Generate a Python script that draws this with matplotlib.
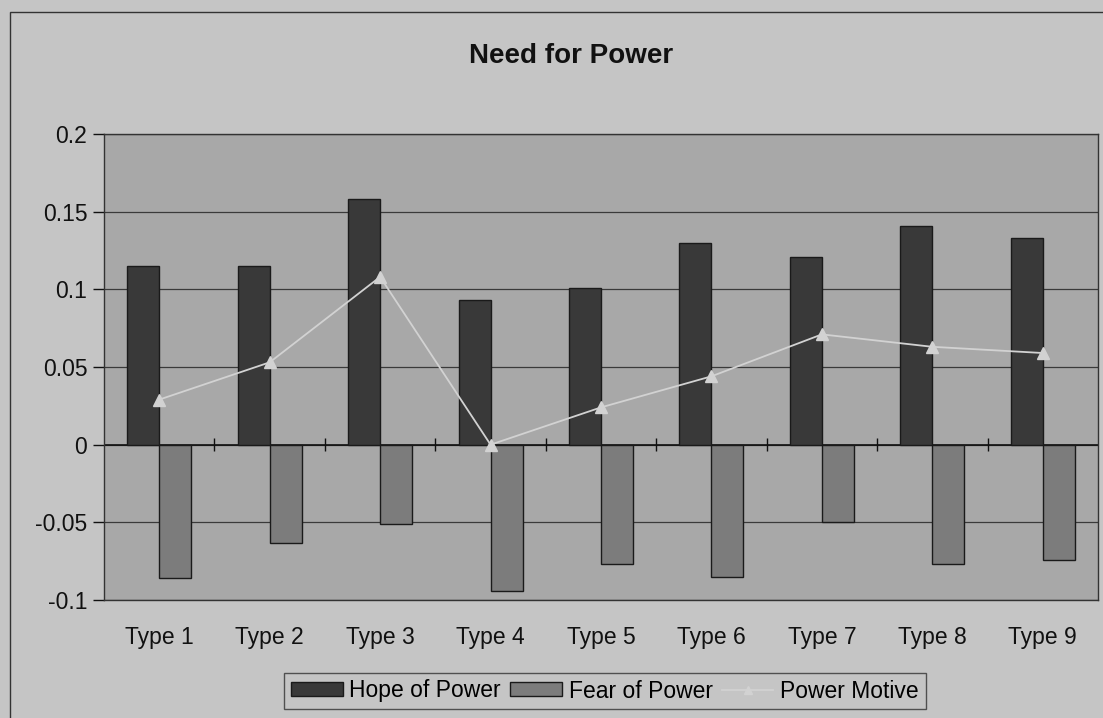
import matplotlib
matplotlib.use("Agg")
import matplotlib.pyplot as plt
import numpy as np
from matplotlib.patches import Rectangle
from matplotlib.lines import Line2D

categories = ["Type 1", "Type 2", "Type 3", "Type 4", "Type 5", "Type 6", "Type 7", "Type 8", "Type 9"]
hope_of_power = [0.115, 0.115, 0.158, 0.093, 0.101, 0.130, 0.121, 0.141, 0.133]
fear_of_power = [-0.086, -0.063, -0.051, -0.094, -0.077, -0.085, -0.050, -0.077, -0.074]
power_motive = [0.029, 0.053, 0.108, 0.000, 0.024, 0.044, 0.071, 0.063, 0.059]
y_ticks = [-0.1, -0.05, 0, 0.05, 0.1, 0.15, 0.2]
y_tick_labels = ["-0.1", "-0.05", "0", "0.05", "0.1", "0.15", "0.2"]

plt.rcParams['font.family'] = ['Liberation Sans', 'DejaVu Sans']

outer_bg = "#c5c5c5"
plot_bg = "#a8a8a8"
hope_col = "#393939"
fear_col = "#7c7c7c"
line_col = "#d2d2d2"

fig = plt.figure(figsize=(11.03, 7.18), dpi=100)
fig.patch.set_facecolor(outer_bg)
# chart area border
fig.add_artist(Rectangle((10/1103, -0.05), 1.2, 1 - 12/718 + 0.05, transform=fig.transFigure,
                         fill=False, edgecolor="#333333", linewidth=1.0))

ax = fig.add_axes([104/1103, 1 - 600/718, (1098 - 104)/1103, (600 - 134)/718])
ax.set_facecolor(plot_bg)

x = np.arange(len(categories))
w = 0.29
ax.bar(x - w/2, hope_of_power, width=w, color=hope_col, edgecolor="#1a1a1a", linewidth=1.0,
       label="Hope of Power", zorder=3)
ax.bar(x + w/2, fear_of_power, width=w, color=fear_col, edgecolor="#1a1a1a", linewidth=1.0,
       label="Fear of Power", zorder=3)
ax.plot(x, power_motive, color=line_col, linewidth=1.3, marker="^", markersize=8,
        markerfacecolor=line_col, markeredgecolor=line_col, label="Power Motive", zorder=4)

ax.set_xlim(-0.5, len(categories) - 0.5)
ax.set_ylim(-0.1, 0.2)
ax.set_yticks(y_ticks)
ax.set_yticklabels(y_tick_labels)
ax.set_xticks(x)
ax.set_xticklabels(categories)
ax.tick_params(axis='x', length=0, pad=19, labelsize=16.5, colors="#111111")
ax.tick_params(axis='y', length=8, width=1, direction='out', pad=4, labelsize=16.5, colors="#111111")
ax.yaxis.grid(True, color="#3a3a3a", linewidth=0.9, zorder=1)
ax.set_axisbelow(True)
for s in ax.spines.values():
    s.set_color("#333333")
    s.set_linewidth(1.0)

ax.axhline(0, color="#111111", linewidth=1.2, zorder=2)
bounds = np.arange(len(categories) - 1) + 0.5
ax.vlines(bounds, -0.004, 0.004, color="#111111", linewidth=1.0, zorder=2)

fig.text(571/1103, 1 - 56/718, "Need for Power", ha="center", va="center",
         fontsize=20, fontweight="bold", color="#111111")

handles = [Rectangle((0, 0), 1, 1, facecolor=hope_col, edgecolor="#1a1a1a"),
           Rectangle((0, 0), 1, 1, facecolor=fear_col, edgecolor="#1a1a1a"),
           Line2D([], [], color=line_col, marker="^", markersize=6, linewidth=1.3)]
leg = fig.legend(handles, ["Hope of Power", "Fear of Power", "Power Motive"],
                 loc="center", bbox_to_anchor=(605/1103, 1 - 691/718), ncol=3,
                 fontsize=16.5, frameon=True, fancybox=False, handlelength=2.25,
                 handleheight=0.55, handletextpad=0.3, columnspacing=0.4,
                 borderpad=0.3)
leg.get_frame().set_facecolor(outer_bg)
leg.get_frame().set_edgecolor("#333333")
leg.get_frame().set_linewidth(1.0)

fig.savefig("out.png", dpi=100, facecolor=fig.get_facecolor())
